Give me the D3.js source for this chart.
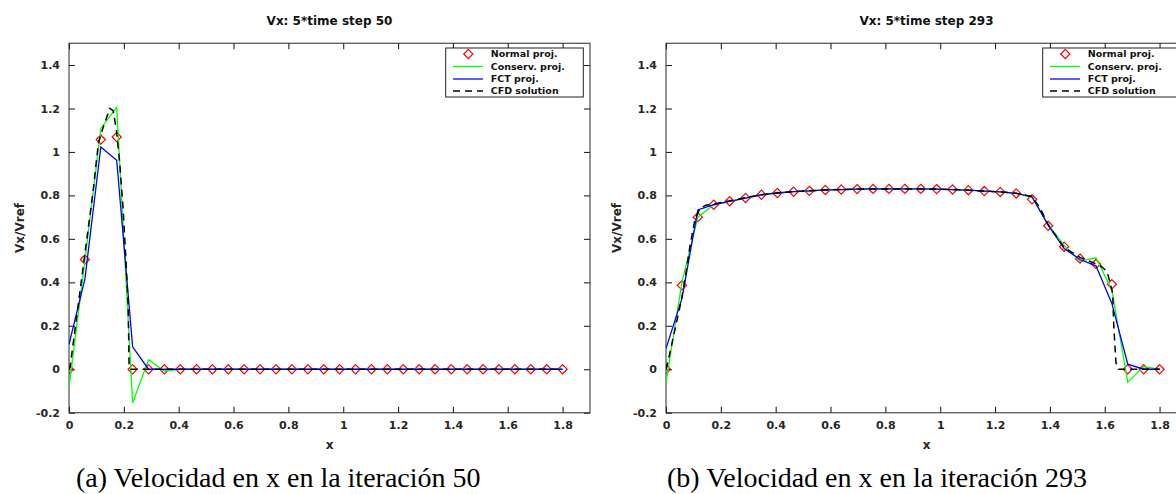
<!DOCTYPE html>
<html>
<head>
<meta charset="utf-8">
<script src="https://cdn.jsdelivr.net/npm/d3@7"></script>
<style>
  html, body { margin: 0; padding: 0; background: #fff; }
  svg { display: block; }
</style>
</head>
<body>
<svg id="chart" width="1176" height="494"></svg>
<script>
// ---------- DATA ----------
const xGrid = [0, 0.058, 0.116, 0.174, 0.232, 0.290, 0.348, 0.406, 0.465, 0.523, 0.581, 0.639,
  0.697, 0.755, 0.813, 0.871, 0.929, 0.987, 1.045, 1.103, 1.161, 1.219, 1.277, 1.335,
  1.394, 1.452, 1.510, 1.568, 1.626, 1.684, 1.742, 1.800];

// (a) time step 50
const normal50  = [0, 0.505, 1.057, 1.069, 0, 0, 0, 0, 0, 0, 0, 0, 0, 0, 0, 0,
  0, 0, 0, 0, 0, 0, 0, 0, 0, 0, 0, 0, 0, 0, 0, 0];
const conserv50 = [-0.085, 0.50, 1.108, 1.205, -0.155, 0.044, -0.008, 0, 0, 0, 0, 0, 0, 0, 0, 0,
  0, 0, 0, 0, 0, 0, 0, 0, 0, 0, 0, 0, 0, 0, 0, 0];
const fct50     = [0.115, 0.415, 1.023, 0.962, 0.103, 0, 0, 0, 0, 0, 0, 0, 0, 0, 0, 0,
  0, 0, 0, 0, 0, 0, 0, 0, 0, 0, 0, 0, 0, 0, 0, 0];
const cfdX50 = [0, 0.004, 0.034, 0.064, 0.088, 0.107, 0.125, 0.149, 0.161, 0.173, 0.185, 0.197,
  0.207, 0.216, 0.219, 0.225, 1.8];
const cfdY50 = [0, 0.01, 0.30, 0.59, 0.82, 1.04, 1.115, 1.20, 1.19, 1.10, 0.947, 0.747,
  0.517, 0.287, 0.026, 0, 0];

// (b) time step 293
const normal293  = [0, 0.386, 0.70, 0.757, 0.773, 0.788, 0.803, 0.811, 0.817, 0.821, 0.825, 0.827,
  0.829, 0.83, 0.83, 0.83, 0.83, 0.829, 0.827, 0.824, 0.82, 0.816, 0.809, 0.782,
  0.66, 0.564, 0.509, 0.484, 0.391, 0, 0, 0];
const conserv293 = [-0.06, 0.40, 0.70, 0.757, 0.773, 0.788, 0.803, 0.811, 0.817, 0.821, 0.825, 0.827,
  0.829, 0.83, 0.83, 0.83, 0.83, 0.829, 0.827, 0.824, 0.82, 0.816, 0.809, 0.79,
  0.665, 0.57, 0.498, 0.513, 0.364, -0.06, 0.012, 0];
const fct293     = [0.095, 0.325, 0.733, 0.757, 0.773, 0.788, 0.803, 0.811, 0.817, 0.821, 0.825, 0.827,
  0.829, 0.83, 0.83, 0.83, 0.83, 0.829, 0.827, 0.824, 0.82, 0.816, 0.809, 0.794,
  0.662, 0.556, 0.505, 0.476, 0.303, 0.023, 0, 0];
const cfdX293 = [0, 0.01, 0.027, 0.051, 0.069, 0.087, 0.105, 0.124, 0.145, 0.174, 0.232, 0.290,
  0.348, 0.406, 0.465, 0.523, 0.581, 0.639, 0.697, 0.755, 0.813, 0.871, 0.929, 0.987,
  1.045, 1.103, 1.161, 1.219, 1.277, 1.335, 1.365, 1.394, 1.452, 1.510, 1.568, 1.583,
  1.609, 1.629, 1.633, 1.641, 1.650, 1.8];
const cfdY293 = [0, 0.05, 0.15, 0.288, 0.41, 0.564, 0.686, 0.74, 0.755, 0.76, 0.775, 0.79,
  0.803, 0.811, 0.817, 0.821, 0.825, 0.827, 0.829, 0.83, 0.83, 0.83, 0.83, 0.829,
  0.827, 0.824, 0.82, 0.816, 0.81, 0.795, 0.74, 0.665, 0.56, 0.515, 0.485, 0.478,
  0.449, 0.349, 0.196, 0.03, 0, 0];

const xTicks = [0, 0.2, 0.4, 0.6, 0.8, 1, 1.2, 1.4, 1.6, 1.8];
const xTickLabels = ["0", "0.2", "0.4", "0.6", "0.8", "1", "1.2", "1.4", "1.6", "1.8"];
const yTicks = [-0.2, 0, 0.2, 0.4, 0.6, 0.8, 1, 1.2, 1.4];
const yTickLabels = ["-0.2", "0", "0.2", "0.4", "0.6", "0.8", "1", "1.2", "1.4"];

const legendLabels = ["Normal proj.", "Conserv. proj.", "FCT proj.", "CFD solution"];
const titles = ["Vx: 5*time step 50", "Vx: 5*time step 293"];
const captions = ["(a) Velocidad en x en la iteración 50", "(b) Velocidad en x en la iteración 293"];

// ---------- DRAW ----------
const svg = d3.select("#chart");
const FONT = "'DejaVu Sans', sans-serif";

const panels = [
  { left: 69,  normal: normal50,  conserv: conserv50,  fct: fct50,  cfdX: cfdX50,  cfdY: cfdY50,
    title: titles[0], caption: captions[0], capX: 76 },
  { left: 666, normal: normal293, conserv: conserv293, fct: fct293, cfdX: cfdX293, cfdY: cfdY293,
    title: titles[1], caption: captions[1], capX: 667 }
];

const TOP = 43.3, BOTTOM = 412.7, PW = 521;
const diamond = "M0,-4.6L4.6,0L0,4.6L-4.6,0Z";

panels.forEach(p => {
  const x = d3.scaleLinear().domain([0, 1.9]).range([p.left, p.left + PW]);
  const y = d3.scaleLinear().domain([-0.2, 1.5]).range([BOTTOM, TOP]);
  const g = svg.append("g");

  // frame
  g.append("rect").attr("x", x(0)).attr("y", TOP).attr("width", PW).attr("height", BOTTOM - TOP)
    .attr("fill", "none").attr("stroke", "#5a5a5a").attr("stroke-width", 1.3);

  // axes with inward ticks
  const tickFmtX = d => xTickLabels[xTicks.indexOf(d)];
  const tickFmtY = d => yTickLabels[yTicks.indexOf(d)];
  const axB = g.append("g").attr("transform", `translate(0,${BOTTOM})`)
    .call(d3.axisBottom(x).tickValues(xTicks).tickFormat(tickFmtX).tickSizeInner(-6).tickSizeOuter(0).tickPadding(9));
  const axT = g.append("g").attr("transform", `translate(0,${TOP})`)
    .call(d3.axisTop(x).tickValues(xTicks).tickFormat("").tickSizeInner(-6).tickSizeOuter(0));
  const axL = g.append("g").attr("transform", `translate(${x(0)},0)`)
    .call(d3.axisLeft(y).tickValues(yTicks).tickFormat(tickFmtY).tickSizeInner(-6).tickSizeOuter(0).tickPadding(9));
  const axR = g.append("g").attr("transform", `translate(${x(1.9)},0)`)
    .call(d3.axisRight(y).tickValues(yTicks).tickFormat("").tickSizeInner(-6).tickSizeOuter(0));
  [axB, axT, axL, axR].forEach(a => {
    a.select(".domain").remove();
    a.selectAll("line").attr("stroke", "#262626").attr("stroke-width", 1.1);
    a.selectAll("text").attr("font-family", FONT).attr("font-weight", "bold")
      .attr("font-size", 11).attr("fill", "#262626");
  });

  // clip
  const clipId = "clip" + p.left;
  svg.append("clipPath").attr("id", clipId).append("rect")
    .attr("x", x(0)).attr("y", TOP).attr("width", PW).attr("height", BOTTOM - TOP);
  const plot = g.append("g").attr("clip-path", `url(#${clipId})`);

  const line = d3.line().x(d => x(d[0])).y(d => y(d[1]));

  // Normal proj. markers
  plot.selectAll("path.mk").data(xGrid.map((xv, i) => [xv, p.normal[i]])).join("path")
    .attr("class", "mk").attr("d", diamond)
    .attr("transform", d => `translate(${x(d[0])},${y(d[1])})`)
    .attr("fill", "none").attr("stroke", "#ff0000").attr("stroke-width", 1.2);

  // Conserv. proj.
  plot.append("path").datum(xGrid.map((xv, i) => [xv, p.conserv[i]])).attr("d", line)
    .attr("fill", "none").attr("stroke", "#00ff00").attr("stroke-width", 1.3);
  // FCT proj.
  plot.append("path").datum(xGrid.map((xv, i) => [xv, p.fct[i]])).attr("d", line)
    .attr("fill", "none").attr("stroke", "#0000ff").attr("stroke-width", 1.3);
  // CFD solution
  plot.append("path").datum(p.cfdX.map((xv, i) => [xv, p.cfdY[i]])).attr("d", line)
    .attr("fill", "none").attr("stroke", "#000").attr("stroke-width", 1.5)
    .attr("stroke-dasharray", "7,5");

  // title
  svg.append("text").attr("x", x(0) + PW / 2).attr("y", 25).attr("text-anchor", "middle")
    .attr("font-family", FONT).attr("font-weight", "bold").attr("font-size", 12)
    .attr("fill", "#111").text(p.title);
  // axis labels
  svg.append("text").attr("x", x(0) + PW / 2).attr("y", 449).attr("text-anchor", "middle")
    .attr("font-family", FONT).attr("font-weight", "bold").attr("font-size", 12)
    .attr("fill", "#262626").text("x");
  svg.append("text").attr("transform", `translate(${x(0) - 45.5},${(TOP + BOTTOM) / 2}) rotate(-90)`)
    .attr("text-anchor", "middle")
    .attr("font-family", FONT).attr("font-weight", "bold").attr("font-size", 12)
    .attr("fill", "#262626").text("Vx/Vref");

  // legend
  const lx = x(1.9) - 144.3, ly = 48;
  const lg = svg.append("g").attr("transform", `translate(${lx},${ly})`);
  lg.append("rect").attr("x", 0).attr("y", 0).attr("width", 137.6).attr("height", 49)
    .attr("fill", "#fff").attr("stroke", "#222").attr("stroke-width", 1);
  const rowY = [6, 18.5, 31, 43];
  lg.append("path").attr("d", diamond).attr("transform", `translate(22.6,${rowY[0]})`)
    .attr("fill", "none").attr("stroke", "#ff0000").attr("stroke-width", 1.2);
  lg.append("line").attr("x1", 7.3).attr("x2", 37.3).attr("y1", rowY[1]).attr("y2", rowY[1])
    .attr("stroke", "#00ff00").attr("stroke-width", 1.3);
  lg.append("line").attr("x1", 7.3).attr("x2", 37.3).attr("y1", rowY[2]).attr("y2", rowY[2])
    .attr("stroke", "#0000ff").attr("stroke-width", 1.3);
  lg.append("line").attr("x1", 7.3).attr("x2", 37.3).attr("y1", rowY[3]).attr("y2", rowY[3])
    .attr("stroke", "#000").attr("stroke-width", 1.5).attr("stroke-dasharray", "7,5");
  lg.selectAll("text.lt").data(legendLabels).join("text").attr("class", "lt")
    .attr("x", 45).attr("y", (d, i) => rowY[i]).attr("dy", "0.35em")
    .attr("font-family", FONT).attr("font-weight", "bold").attr("font-size", 9.5)
    .attr("fill", "#111").text(d => d);

  // caption
  svg.append("text").attr("x", p.capX).attr("y", 487)
    .attr("font-family", "'Liberation Serif', 'Times New Roman', serif").attr("font-size", 28)
    .attr("fill", "#000").text(p.caption);
});
</script>
</body>
</html>
